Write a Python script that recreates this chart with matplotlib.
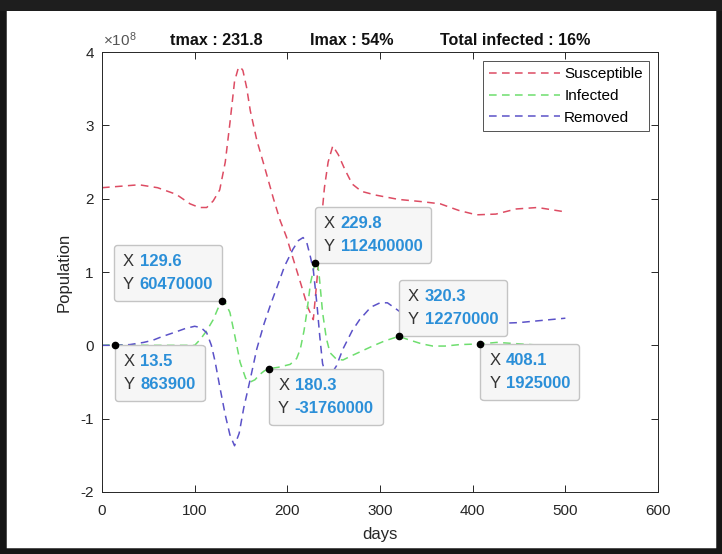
import matplotlib
matplotlib.use("Agg")
import matplotlib.pyplot as plt
import numpy as np
from matplotlib.offsetbox import AnnotationBbox, HPacker, TextArea, VPacker
from matplotlib.patches import Rectangle
from matplotlib.ticker import FuncFormatter, MultipleLocator

plt.rcParams["font.family"] = ["Liberation Sans", "DejaVu Sans"]
plt.rcParams["axes.unicode_minus"] = False

# population values in units of 1e8
days_s = [0, 20, 40, 60, 80, 95, 105, 113, 120, 127, 133, 138, 143, 147, 149,
          152, 156, 160, 167, 175, 185, 192, 199, 207, 215, 222, 228, 232, 236,
          240, 244, 249, 255, 262, 270, 280, 295, 320, 345, 365, 385, 404, 425,
          447, 470, 485, 500]
susceptible = [2.15, 2.17, 2.19, 2.15, 2.06, 1.93, 1.88, 1.88, 1.97, 2.12, 2.5,
               3.03, 3.6, 3.78, 3.80, 3.75, 3.52, 3.2, 2.80, 2.45, 2.0, 1.71,
               1.48, 1.15, 0.82, 0.52, 0.35, 0.9, 1.6, 2.15, 2.5, 2.72, 2.6,
               2.4, 2.2, 2.1, 2.05, 1.99, 1.96, 1.93, 1.84, 1.78, 1.79, 1.86,
               1.88, 1.85, 1.82]

days_i = [0, 13.5, 50, 90, 100, 106, 113, 120, 125, 129.6, 133, 138, 143, 149,
          155, 160, 165, 170, 175, 180.3, 190, 203, 210, 214, 218, 221, 225,
          229.8, 231.8, 234, 238, 242, 246, 253, 260, 268, 280, 292, 305,
          320.3, 330, 345, 357, 370, 386, 408.1, 426, 450, 475, 500]
infected = [0, 0.008639, 0, 0, 0, 0.08, 0.2, 0.35, 0.5, 0.6047, 0.58, 0.45,
            0.15, -0.23, -0.45, -0.50, -0.47, -0.40, -0.35, -0.3176, -0.3,
            -0.26, -0.18, -0.05, 0.2, 0.45, 0.85, 1.124, 1.15, 1.0, 0.45, 0.1,
            -0.1, -0.19, -0.2, -0.15, -0.08, -0.01, 0.06, 0.1227, 0.08, 0.02,
            -0.01, -0.01, 0.01, 0.01925, 0.04, 0.02, 0.0, 0.0]

days_r = [0, 15, 30, 45, 55, 65, 79, 90, 100, 107, 113, 118, 122, 127, 133,
          138, 143, 148, 153, 160, 167, 175, 182, 189, 197, 206, 212, 217, 221,
          225, 228, 232, 235, 238, 242, 247, 253, 260, 270, 278, 290, 300, 308,
          318, 330, 345, 370, 400, 430, 450, 475, 500]
removed = [0, 0, 0.01, 0.04, 0.07, 0.12, 0.18, 0.23, 0.26, 0.24, 0.17, 0.0,
           -0.22, -0.56, -0.95, -1.22, -1.37, -1.2, -0.85, -0.46, -0.05, 0.3,
           0.56, 0.80, 1.08, 1.31, 1.43, 1.47, 1.40, 1.2, 1.03, 0.55, 0.12,
           -0.25, -0.42, -0.40, -0.28, -0.05, 0.2, 0.35, 0.52, 0.58, 0.58,
           0.49, 0.38, 0.32, 0.30, 0.30, 0.30, 0.31, 0.34, 0.37]

tip_days = [13.5, 129.6, 180.3, 229.8, 320.3, 408.1]
tip_values = [863900, 60470000, -31760000, 112400000, 12270000, 1925000]

title_parts = ["tmax : 231.8", "Imax : 54%", "Total infected : 16%"]

scale = 1e8
fig = plt.figure(figsize=(7.22, 5.54), dpi=100)
ax = fig.add_axes([0.1413, 0.112, 0.7701, 0.794])

dash = (0, (5, 3.5))
ax.plot(days_s, np.array(susceptible) * scale, color="#dd4c63", lw=1.1,
        linestyle=dash, label="Susceptible")
ax.plot(days_i, np.array(infected) * scale, color="#6ede6e", lw=1.1,
        linestyle=dash, label="Infected")
ax.plot(days_r, np.array(removed) * scale, color="#5b52c8", lw=1.1,
        linestyle=dash, label="Removed")

ax.set_xlim(0, 600)
ax.set_ylim(-2e8, 4e8)
ax.xaxis.set_major_locator(MultipleLocator(100))
ax.yaxis.set_major_locator(MultipleLocator(1e8))
ax.yaxis.set_major_formatter(FuncFormatter(lambda v, p: f"{v / scale:g}"))
ax.text(0.002, 1.008, r"$\mathregular{\times10^{8}}$", transform=ax.transAxes,
        ha="left", va="bottom", fontsize=11, color="#555555")

ax.tick_params(direction="in", top=True, right=True, length=5, width=0.7,
               colors="#262626", labelsize=11)
ax.tick_params(axis="x", pad=9)
ax.tick_params(axis="y", pad=6)
for sp in ax.spines.values():
    sp.set_color("#262626")
    sp.set_linewidth(0.7)
ax.set_xlabel("days", fontsize=12, color="#262626", labelpad=6)
ax.set_ylabel("Population", fontsize=12, color="#262626", labelpad=6)

leg = ax.legend(loc="upper right", fontsize=11, handlelength=4.6,
                handletextpad=0.3, borderaxespad=0.6, fancybox=False,
                labelspacing=0.5)
leg.get_frame().set_edgecolor("#262626")
leg.get_frame().set_linewidth(0.7)

# data tips: marker plus a two-line label box with a corner on the marker
ax.plot(tip_days, tip_values, "o", color="black", ms=4.5, zorder=5)
pad = 0.65
p = pad * 10
align = [(0, 1), (1, 0), (0, 1), (0, 0), (0, 0), (0, 1)]
offs = [(p, -p), (-p, p), (p, -p), (p, p), (p, p), (p, -p)]
for xd, yv, al, of in zip(tip_days, tip_values, align, offs):
    gray = dict(color="#333333", fontsize=12)
    blue = dict(color="#2b8fd8", fontsize=12, fontweight="bold")
    row_x = HPacker(children=[TextArea("X", textprops=gray),
                              TextArea(f"{xd:g}", textprops=blue)],
                    pad=0, sep=4)
    row_y = HPacker(children=[TextArea("Y", textprops=gray),
                              TextArea(f"{yv:d}", textprops=blue)],
                    pad=0, sep=4)
    box = VPacker(children=[row_x, row_y], pad=0, sep=6, align="left")
    ab = AnnotationBbox(box, (xd, yv), xybox=of, boxcoords="offset points",
                        box_alignment=al, frameon=True,
                        bboxprops=dict(boxstyle=f"round,pad={pad},rounding_size=0.25",
                                       fc="#f6f6f6", ec="#c4c4c4", lw=1.0),
                        zorder=4)
    ax.add_artist(ab)

for txt, xc in zip(title_parts, [0.2999, 0.4875, 0.7133]):
    fig.text(xc, 0.927, txt, ha="center", va="center", fontsize=11.6,
             fontweight="bold", color="#111111")

# outer frame
fig.patches.append(Rectangle((0, 0), 1, 1, transform=fig.transFigure,
                             fill=False, ec="#161616", lw=9, zorder=10))
fig.patches.append(Rectangle((0, 1 - 11 / 554), 1, 11 / 554,
                             transform=fig.transFigure, fc="#1e1e1e",
                             ec="none", zorder=10))

fig.savefig("out.png", dpi=100)
